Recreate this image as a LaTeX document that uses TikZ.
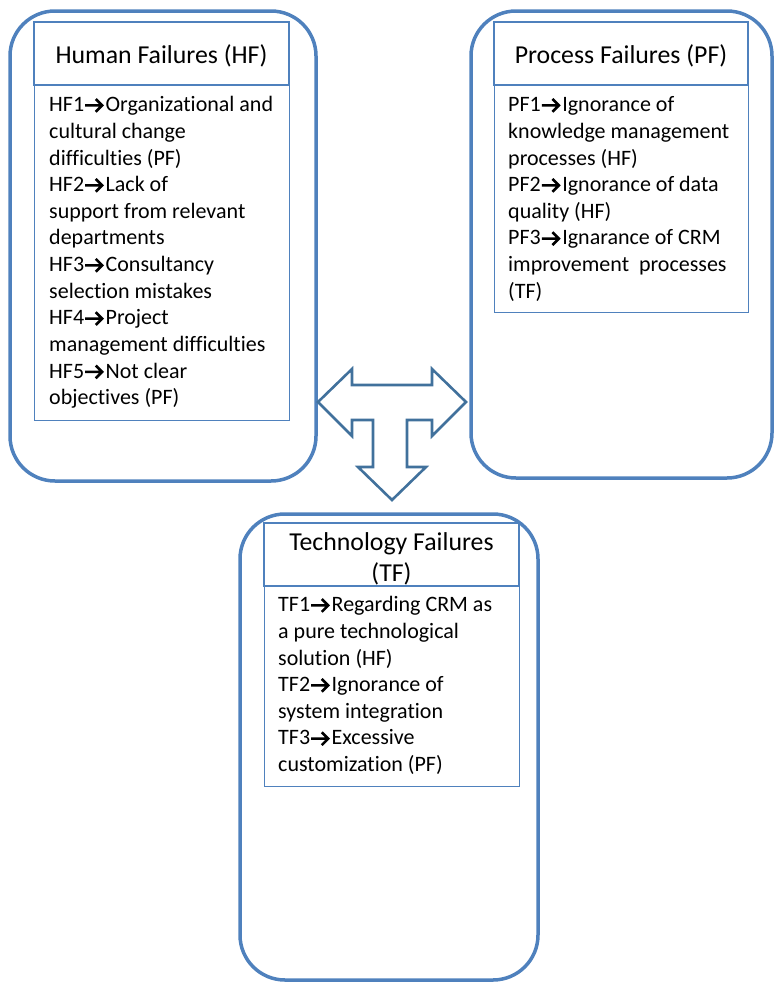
\documentclass[tikz,border=0pt]{standalone}
\usepackage{fontspec}
\setmainfont{Carlito}[Ligatures={NoCommon}]
\definecolor{panelblue}{HTML}{4F81BD}
\definecolor{arrowblue}{HTML}{41719C}
% bold inline arrow placed between an item code and its text
\newcommand{\itemarrow}{\tikz[baseline=0pt,x=1pt,y=1pt]{%
  \useasboundingbox (-1,0) rectangle (20.5,12);
  \draw[line width=2.6pt, line join=miter, line cap=butt]
    (0,6.3) -- (17,6.3) (10.6,12.7) -- (17,6.3) -- (10.6,-0.1);}}
\begin{document}
\begin{tikzpicture}[x=1pt,y=-1pt,
  panel/.style={draw=panelblue, line width=3.5pt, rounded corners=45pt},
  headbox/.style={draw=panelblue, line width=2.8pt},
  listbox/.style={draw=panelblue, line width=1pt},
  headtext/.style={anchor=base, inner sep=0pt, font=\fontsize{25.8}{30}\selectfont},
  listtext/.style={anchor=base west, inner sep=0pt},
  bigarrow/.style={draw=arrowblue, line width=2.6pt, fill=white, line join=miter}]
\useasboundingbox (0,0) rectangle (779,988);
\newcommand{\itemlines}[1]{\parbox[t]{320pt}{\fontsize{22}{26.65}\selectfont\raggedright #1}}

% outer rounded panels
\draw[panel] (10,11) rectangle (316,481);
\draw[panel] (471,11) rectangle (772,478);
\draw[panel] (240,514) rectangle (538,980);

% list frames
\draw[listbox] (34,85) rectangle (289,420);
\draw[listbox] (494,85) rectangle (748,312);
\draw[listbox] (264,586) rectangle (519,786);

% title frames
\draw[headbox] (34,22) rectangle (289,85);
\draw[headbox] (494,22) rectangle (748,85);
\draw[headbox] (264,523) rectangle (519,586);

% titles
\node[headtext] (hftitle) at (161.5,63) {Human Failures (HF)};
\node[headtext] (pftitle) at (621,63) {Process Failures (PF)};
\node[headtext] (tftitle1) at (391.5,550) {Technology Failures};
\node[headtext] (tftitle2) at (391.5,581) {(TF)};

% item lists
\node[listtext] (hflist) at (49,111.7) {\itemlines{%
HF1\itemarrow Organizational and\\
cultural change\\
difficulties (PF)\\
HF2\itemarrow Lack of\\
support from relevant\\
departments\\
HF3\itemarrow Consultancy\\
selection mistakes\\
HF4\itemarrow Project\\
management difficulties\\
HF5\itemarrow Not clear\\
objectives (PF)}};

\node[listtext] (pflist) at (508,111.7) {\itemlines{%
PF1\itemarrow Ignorance of\\
knowledge management\\
processes (HF)\\
PF2\itemarrow Ignorance of data\\
quality (HF)\\
PF3\itemarrow Ignarance of CRM\\
improvement\ \ processes\\
(TF)}};

\node[listtext] (tflist) at (278,611.7) {\itemlines{%
TF1\itemarrow Regarding CRM as\\
a pure technological\\
solution (HF)\\
TF2\itemarrow Ignorance of\\
system integration\\
TF3\itemarrow Excessive\\
customization (PF)}};

% three-way block arrow between the panels
\draw[bigarrow]
  (318,402) -- (352,369) -- (352,385) -- (432,385) -- (432,369)
  -- (466,402) -- (432,436) -- (432,420) -- (407,420) -- (407,467)
  -- (426,467) -- (392,500) -- (358,467) -- (373,467) -- (373,420)
  -- (352,420) -- (352,436) -- cycle;
\end{tikzpicture}
\end{document}
